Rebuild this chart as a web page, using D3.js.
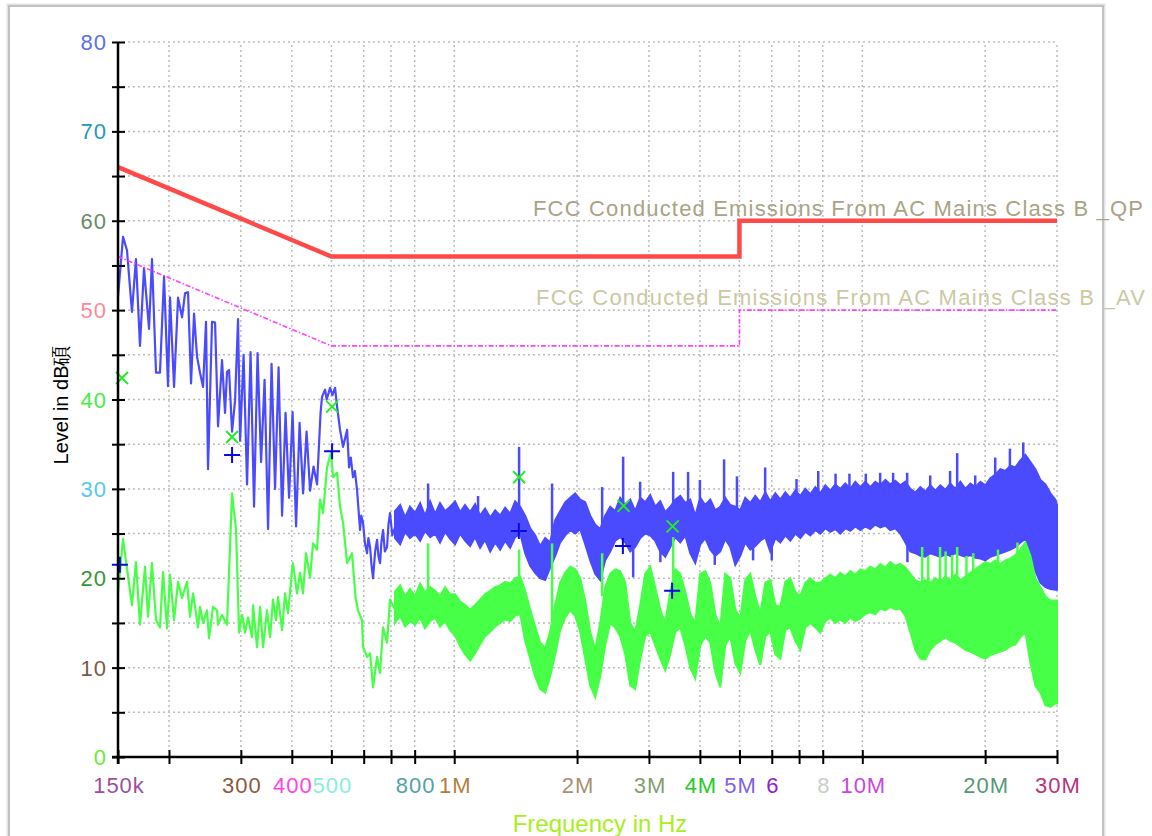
<!DOCTYPE html>
<html>
<head>
<meta charset="utf-8">
<script src="https://cdn.jsdelivr.net/npm/d3@7"></script>
<style>
  body { margin: 0; background: #fff; }
  svg { display: block; font-family: "Liberation Sans", Arial, sans-serif; }
</style>
</head>
<body>
<svg id="chart" width="1152" height="836"></svg>
<script>

// limit lines (MHz, dB)
var qpLimit = [[0.15, 66], [0.5, 56], [5, 56], [5, 60], [30, 60]];
var avLimit = [[0.15, 56], [0.5, 46], [5, 46], [5, 50], [30, 50]];

// peak trace, low part (kHz, dB)
var peakLow = [
  [150, 51.5], [154.3, 58.2], [157.8, 56.7], [162.3, 49.8], [166.0, 55.7], [169.8, 46.0],
  [173.7, 54.7], [178.7, 47.9], [181.7, 55.7], [185.9, 43.0], [190.1, 43.0], [194.5, 53.8],
  [198.9, 41.5], [201.2, 51.4], [205.8, 41.4], [210.5, 51.4], [215.3, 49.2], [219.0, 51.9],
  [222.7, 52.0], [226.5, 41.8], [230.4, 49.6], [234.3, 44.8], [238.3, 43.0], [242.4, 41.4],
  [246.5, 48.7], [249.3, 32.2], [255.0, 48.7], [259.4, 48.6], [263.8, 37.0], [269.8, 44.4],
  [274.4, 38.5], [277.5, 43.1], [280.7, 43.3], [285.5, 36.4], [290.4, 39.9], [295.3, 49.0],
  [298.7, 35.4], [304.7, 45.0], [310.7, 30.5], [316.9, 45.3], [323.2, 28.0], [329.7, 45.2],
  [336.3, 33.0], [343.0, 42.2], [349.8, 25.5], [356.8, 44.0], [363.9, 30.0], [371.2, 43.6],
  [378.6, 27.0], [386.1, 38.5], [393.8, 29.0], [401.7, 38.6], [409.7, 25.8], [417.9, 37.4],
  [426.2, 29.5], [434.7, 36.4], [443.4, 29.8], [452.2, 32.5], [461.2, 30.5], [470.4, 38.5],
  [474.3, 40.3], [482.5, 41.1], [487.0, 40.0], [496.3, 41.3], [503.0, 40.5], [510.5, 41.3],
  [516.3, 39.2], [525.1, 36.6], [534.1, 34.7], [546.3, 36.6], [552.5, 32.4], [558.0, 33.5],
  [565.0, 31.3], [571.0, 32.0], [577.9, 29.9], [587.8, 25.4], [592.0, 27.0], [597.9, 26.2],
  [604.0, 24.0], [611.5, 22.8], [616.0, 24.5], [622.0, 23.5], [627.0, 21.5], [632.6, 20.0],
  [640.0, 23.0], [647.0, 24.3], [652.0, 22.5], [658.0, 21.7], [663.0, 24.0], [669.3, 25.4],
  [676.0, 23.0], [684.6, 23.5], [690.0, 26.0], [696.2, 27.3], [705.0, 24.8], [716.1, 25.7]
];

// average trace, low part (kHz, dB)
var avgLow = [
  [150, 18.3], [154.3, 24.4], [162.3, 17.0], [166.0, 21.8], [169.8, 14.8], [174.7, 21.3],
  [177.7, 15.7], [181.7, 21.7], [185.9, 15.3], [190.1, 14.5], [193.4, 20.7], [197.8, 14.4],
  [201.2, 20.4], [205.8, 15.3], [210.5, 19.6], [215.3, 17.8], [221.4, 19.6], [225.2, 15.7],
  [229.1, 18.3], [235.6, 14.5], [238.3, 16.8], [242.4, 15.0], [247.9, 16.4], [250.7, 13.3],
  [256.5, 16.8], [262.3, 16.4], [263.8, 14.8], [269.8, 15.9], [277.5, 14.8], [285.5, 29.5],
  [292.0, 25.4], [297.0, 13.9], [302.1, 15.9], [307.3, 13.9], [312.5, 15.6], [319.6, 13.4],
  [321.4, 17.0], [328.7, 12.3], [334.4, 16.8], [340.1, 12.3], [347.8, 16.4], [353.8, 13.4],
  [359.8, 17.6], [365.9, 15.3], [370.1, 17.9], [378.6, 14.2], [385.0, 18.3], [391.5, 16.1],
  [400.5, 20.9], [402.7, 21.7], [411.9, 18.3], [419.0, 20.6], [426.1, 18.3], [433.4, 22.8],
  [443.3, 20.1], [450.9, 23.9], [461.2, 23.2], [469.0, 28.8], [477.1, 27.3], [487.9, 32.4],
  [499.1, 34.1], [504.7, 31.3], [516.3, 31.8], [525.1, 28.0], [534.1, 26.2], [546.3, 21.7],
  [561.9, 22.8], [572.9, 17.9], [581.2, 16.4], [594.5, 15.3], [597.9, 12.3], [611.5, 11.2],
  [622.0, 11.6], [632.6, 7.8], [647.0, 11.2], [658.0, 9.4], [669.3, 14.5], [684.6, 12.8],
  [696.2, 17.6], [716.1, 16.5]
];

// dense part of the traces, envelope (MHz, low dB, high dB)
var peakBand = [
  [0.716, 24.5, 27.5], [0.737, 23.8, 28.2], [0.758, 25.2, 26.8], [0.779, 24.5, 28.0], [0.802, 25.0, 27.3],
  [0.825, 24.2, 28.4], [0.848, 25.3, 27.0], [0.873, 24.6, 28.6], [0.898, 25.0, 27.2], [0.923, 24.0, 28.4],
  [0.950, 25.2, 27.5], [0.977, 24.4, 28.0], [1.005, 23.8, 28.6], [1.034, 25.0, 27.4], [1.063, 24.2, 28.2],
  [1.094, 23.6, 27.4], [1.125, 24.6, 28.3], [1.157, 23.4, 27.0], [1.190, 24.3, 27.8], [1.225, 23.0, 26.8],
  [1.260, 24.0, 27.6], [1.296, 23.2, 27.0], [1.333, 24.2, 27.9], [1.371, 23.4, 27.2], [1.410, 24.6, 28.6],
  [1.451, 25.0, 28.0], [1.492, 22.8, 27.0], [1.535, 21.4, 25.6], [1.579, 20.6, 24.8], [1.624, 20.0, 23.6],
  [1.671, 19.8, 24.5], [1.718, 21.2, 24.0], [1.768, 22.5, 26.5], [1.818, 24.0, 27.5], [1.870, 24.8, 28.5],
  [1.924, 25.4, 29.0], [1.979, 25.0, 29.5], [2.036, 25.5, 28.8], [2.094, 23.8, 28.5], [2.154, 22.0, 27.0],
  [2.216, 20.5, 26.0], [2.279, 19.8, 25.5], [2.344, 22.0, 27.0], [2.411, 23.0, 28.0], [2.480, 24.2, 27.5],
  [2.551, 24.6, 29.0], [2.625, 24.0, 28.2], [2.700, 23.0, 28.8], [2.777, 23.5, 27.5], [2.857, 24.5, 29.0],
  [2.938, 25.0, 28.5], [3.022, 24.8, 29.3], [3.109, 24.2, 28.0], [3.198, 23.0, 28.6], [3.290, 22.4, 27.4],
  [3.384, 23.5, 28.0], [3.481, 24.6, 28.8], [3.580, 24.0, 29.2], [3.683, 24.8, 28.4], [3.788, 22.8, 28.8],
  [3.897, 21.7, 27.0], [4.008, 23.8, 29.0], [4.123, 24.5, 28.2], [4.241, 23.2, 28.8], [4.362, 22.5, 27.6],
  [4.487, 23.0, 28.0], [4.616, 24.4, 29.0], [4.748, 23.5, 28.2], [4.884, 21.5, 28.0], [5.023, 22.5, 27.6],
  [5.167, 24.0, 29.0], [5.315, 23.2, 28.4], [5.467, 23.6, 29.2], [5.624, 24.2, 28.5], [5.785, 24.6, 29.6],
  [5.950, 23.0, 28.6], [6.121, 24.5, 29.5], [6.296, 24.0, 28.8], [6.476, 24.8, 29.6], [6.661, 24.2, 29.0],
  [6.852, 25.0, 29.8], [7.048, 24.5, 29.2], [7.250, 25.2, 30.0], [7.457, 24.8, 29.4], [7.671, 25.4, 30.2],
  [7.890, 25.0, 29.5], [8.116, 25.6, 30.4], [8.349, 25.2, 29.8], [8.587, 25.5, 30.5], [8.833, 25.0, 30.0],
  [9.086, 25.6, 30.6], [9.346, 25.3, 30.0], [9.613, 25.8, 30.8], [9.889, 25.4, 30.2], [10.17, 25.8, 30.8],
  [10.46, 25.5, 30.2], [10.76, 26.0, 30.8], [11.07, 25.7, 30.4], [11.39, 25.9, 31.0], [11.71, 25.4, 30.5],
  [12.05, 25.6, 30.9], [12.39, 25.0, 30.4], [12.75, 24.0, 30.8], [13.11, 23.0, 30.0], [13.49, 22.8, 29.6],
  [13.87, 22.5, 30.2], [14.27, 22.4, 29.7], [14.68, 22.8, 30.4], [15.10, 22.6, 29.8], [15.53, 22.4, 30.4],
  [15.98, 22.7, 29.9], [16.43, 22.5, 30.6], [16.90, 22.8, 30.0], [17.39, 22.6, 30.8], [17.89, 22.4, 30.0],
  [18.40, 22.6, 30.6], [18.93, 22.3, 30.2], [19.47, 22.2, 30.8], [20.03, 22.0, 30.4], [20.60, 22.4, 31.2],
  [21.19, 22.6, 31.6], [21.80, 22.8, 32.2], [22.42, 23.0, 32.0], [23.06, 23.2, 32.6], [23.72, 23.5, 32.4],
  [24.40, 24.0, 33.2], [25.10, 24.4, 33.8], [25.82, 22.0, 33.0], [26.56, 20.8, 32.2], [27.32, 19.5, 31.0],
  [28.10, 19.0, 30.5], [28.90, 18.8, 29.5], [29.73, 18.7, 28.8], [30.0, 18.7, 28.2]
];

var avgBand = [
  [0.716, 15.0, 18.5], [0.737, 15.8, 19.2], [0.758, 14.6, 18.0], [0.779, 15.2, 18.8], [0.802, 14.8, 18.0],
  [0.825, 15.6, 19.4], [0.848, 14.4, 18.4], [0.873, 15.2, 19.0], [0.898, 15.6, 18.6], [0.923, 14.6, 18.0],
  [0.950, 15.2, 19.0], [0.977, 14.2, 18.2], [1.005, 13.6, 18.2], [1.034, 12.4, 17.4], [1.063, 11.5, 17.0],
  [1.094, 10.8, 16.5], [1.125, 11.6, 17.0], [1.157, 12.6, 17.6], [1.190, 13.5, 18.2], [1.225, 14.0, 18.6],
  [1.260, 14.6, 19.0], [1.296, 15.0, 19.2], [1.333, 15.4, 19.6], [1.371, 15.2, 19.4], [1.410, 15.8, 20.0],
  [1.451, 16.0, 20.2], [1.492, 13.0, 18.6], [1.535, 11.0, 16.5], [1.579, 9.0, 14.6], [1.624, 7.6, 12.8],
  [1.671, 7.2, 12.2], [1.718, 9.0, 14.0], [1.768, 11.5, 17.0], [1.818, 14.2, 19.5], [1.870, 15.6, 20.6],
  [1.924, 16.4, 21.3], [1.979, 15.8, 21.0], [2.036, 14.0, 20.0], [2.094, 11.0, 17.5], [2.154, 8.0, 14.0],
  [2.216, 6.7, 12.0], [2.279, 9.0, 15.0], [2.344, 12.5, 19.0], [2.411, 15.0, 20.5], [2.480, 14.5, 21.0],
  [2.551, 13.5, 20.8], [2.625, 11.5, 19.5], [2.700, 8.0, 15.0], [2.777, 7.6, 14.0], [2.857, 11.0, 17.0],
  [2.938, 13.5, 20.5], [3.022, 14.0, 21.3], [3.109, 12.5, 19.0], [3.198, 11.0, 16.5], [3.290, 9.7, 15.0],
  [3.384, 11.5, 18.5], [3.481, 14.0, 21.0], [3.580, 14.5, 20.5], [3.683, 12.5, 18.5], [3.788, 10.0, 16.0],
  [3.897, 8.8, 15.0], [4.008, 12.5, 20.5], [4.123, 13.5, 20.8], [4.241, 12.8, 19.5], [4.362, 9.5, 16.0],
  [4.487, 7.8, 14.5], [4.616, 12.5, 20.5], [4.748, 13.5, 20.0], [4.884, 10.5, 16.5], [5.023, 9.4, 15.5],
  [5.167, 13.0, 19.8], [5.315, 14.2, 20.5], [5.467, 12.0, 18.0], [5.624, 10.3, 16.0], [5.785, 13.5, 19.5],
  [5.950, 14.0, 19.8], [6.121, 11.5, 17.0], [6.296, 11.0, 16.8], [6.476, 14.2, 19.6], [6.661, 14.5, 20.0],
  [6.852, 13.0, 18.5], [7.048, 12.0, 18.0], [7.250, 14.5, 19.5], [7.457, 15.0, 20.0], [7.671, 14.5, 19.5],
  [7.890, 13.9, 19.5], [8.116, 15.2, 20.0], [8.349, 15.6, 20.4], [8.587, 15.0, 20.0], [8.833, 15.4, 20.6],
  [9.086, 15.0, 20.2], [9.346, 15.6, 20.8], [9.613, 15.2, 20.4], [9.889, 15.5, 21.0], [10.17, 16.0, 20.8],
  [10.46, 16.2, 21.3], [10.76, 16.0, 21.0], [11.07, 16.6, 21.6], [11.39, 16.4, 21.2], [11.71, 16.8, 21.8],
  [12.05, 16.5, 21.4], [12.39, 16.6, 21.6], [12.75, 15.8, 21.2], [13.11, 14.0, 20.5], [13.49, 12.0, 19.8],
  [13.87, 11.0, 19.5], [14.27, 10.9, 19.8], [14.68, 12.0, 19.5], [15.10, 12.6, 20.0], [15.53, 13.0, 19.6],
  [15.98, 13.4, 20.2], [16.43, 13.0, 19.8], [16.90, 12.8, 20.4], [17.39, 12.4, 19.8], [17.89, 12.0, 20.2],
  [18.40, 11.8, 20.6], [18.93, 11.5, 21.0], [19.47, 11.2, 21.4], [20.03, 11.0, 21.8], [20.60, 11.4, 21.6],
  [21.19, 11.6, 22.0], [21.80, 11.8, 21.6], [22.42, 12.0, 22.0], [23.06, 12.4, 22.2], [23.72, 12.6, 22.6],
  [24.40, 13.4, 23.2], [25.10, 14.0, 24.0], [25.82, 10.5, 22.5], [26.56, 8.0, 20.0], [27.32, 7.2, 19.0],
  [28.10, 5.8, 18.0], [28.90, 5.6, 17.5], [29.73, 6.0, 17.5], [30.0, 6.0, 17.5]
];

// single spikes sticking out of the bands (MHz, from dB, to dB)
var peakSpikes = [
  [0.863, 27, 30.6], [1.144, 27, 29.2], [1.442, 28, 34.7], [1.737, 24, 30.6], [2.304, 25, 30.2],
  [2.594, 28, 33.6], [2.745, 24, 20.1], [2.855, 28, 30.8], [3.44, 28, 31.9], [3.742, 28, 31.9],
  [4.0, 28, 31.0], [4.585, 28, 33.3], [4.93, 27, 31.4], [5.78, 28.5, 32.4], [6.9, 29, 31.1],
  [7.8, 29, 32.0], [8.6, 29.5, 31.7], [9.3, 29.5, 31.7], [10.2, 30, 31.7], [11.06, 30, 31.8],
  [11.9, 30, 31.8], [12.88, 29.5, 31.8], [14.67, 29.5, 31.5], [16.41, 30, 32.0], [17.08, 30, 34.0],
  [18.91, 30, 31.5], [21.17, 31, 33.5], [23.0, 32, 34.5], [24.8, 33, 35.2],
  [3.2, 25, 21.8], [4.35, 25, 21.5], [5.4, 25, 22.0], [6.0, 25, 22.0], [12.9, 25, 21.8]
];
var avgSpikes = [
  [0.863, 18, 23.9], [1.442, 19, 23.2], [1.737, 14, 23.9], [2.304, 18, 22.8], [3.44, 20, 24.6],
  [14.02, 19, 23.5], [14.5, 19, 22.5], [15.51, 19, 23.5], [16.0, 19, 23.0], [16.6, 19, 22.6],
  [17.08, 19, 23.5], [18.0, 19, 22.5], [18.7, 20, 22.8], [21.5, 21, 23.2], [24.0, 22, 24.0]
];

// final measurement markers (MHz, dB)
var qpMarks = [[0.1534, 42.4], [0.2855, 35.8], [0.502, 39.2], [1.442, 31.3], [2.6, 28.1], [3.43, 25.8]];
var avMarks = [[0.1516, 21.5], [0.2855, 33.8], [0.502, 34.2], [1.44, 25.3], [2.59, 23.6], [3.42, 18.6]];

// axis ticks and labels
var yTicks = d3.range(0, 81, 5);
var yLabels = [0, 10, 20, 30, 40, 50, 60, 70, 80];
var yLabelColors = ["#66ee33", "#7b5a48", "#339933", "#55c8ee", "#44ee44", "#ff8899", "#6a8a6a", "#2299bb", "#5a70ee"];
var xTicks = [0.15, 0.2, 0.3, 0.4, 0.5, 0.6, 0.7, 0.8, 1, 2, 3, 4, 5, 6, 7, 8, 10, 20, 30];
var xLabels = [[0.15, "150k"], [0.3, "300"], [0.4, "400"], [0.5, "500"], [0.8, "800"], [1, "1M"], [2, "2M"],
  [3, "3M"], [4, "4M"], [5, "5M"], [6, "6"], [8, "8"], [10, "10M"], [20, "20M"], [30, "30M"]];
var xLabelColors = ["#9a50a0", "#8b5a40", "#ff44dd", "#88eedd", "#55a0a8", "#b0803c", "#a89070",
  "#80a070", "#22cc22", "#8060ee", "#9020cc", "#c8d0c8", "#cc44dd", "#559977", "#bb3377"];

var qpName = "FCC Conducted Emissions From AC Mains Class B _QP";
var avName = "FCC Conducted Emissions From AC Mains Class B _AV";

var svg = d3.select("#chart");

var x = d3.scaleLog().domain([0.15, 30]).range([118, 1057]);
var y = d3.scaleLinear().domain([0, 80]).range([757, 42]);

// window frame
svg.append("rect").attr("x", 8).attr("y", 5).attr("width", 1096).attr("height", 850)
  .attr("fill", "none").attr("stroke", "#e4e4e4").attr("stroke-width", 3);
svg.append("rect").attr("x", 9).attr("y", 6).attr("width", 1094).attr("height", 850)
  .attr("fill", "none").attr("stroke", "#b4b4b4").attr("stroke-width", 1.5);

// grid
var grid = svg.append("g").attr("stroke", "#bdbdbd").attr("stroke-width", 1.5).attr("stroke-dasharray", "2,3");
grid.selectAll(".hg").data(yTicks.filter(function (d) { return d > 0; })).enter().append("line")
  .attr("x1", x(0.15)).attr("x2", x(30))
  .attr("y1", function (d) { return y(d); }).attr("y2", function (d) { return y(d); });
grid.selectAll(".vg").data(xTicks.slice(1)).enter().append("line")
  .attr("y1", y(0)).attr("y2", y(80))
  .attr("x1", function (d) { return x(d); }).attr("x2", function (d) { return x(d); });

// traces
var kLine = d3.line().x(function (d) { return x(d[0] / 1000); }).y(function (d) { return y(d[1]); });
var band = d3.area().x(function (d) { return x(d[0]); })
  .y0(function (d) { return y(d[1]); }).y1(function (d) { return y(d[2]); });

function drawTrace(low, env, spikes, color) {
  var g = svg.append("g");
  g.append("path").datum(low).attr("d", kLine)
    .attr("fill", "none").attr("stroke", color).attr("stroke-width", 2.2).attr("stroke-linejoin", "round");
  g.append("path").datum(env).attr("d", band)
    .attr("fill", color).attr("stroke", color).attr("stroke-width", 2);
  g.selectAll(".sp").data(spikes).enter().append("line")
    .attr("x1", function (d) { return x(d[0]); }).attr("x2", function (d) { return x(d[0]); })
    .attr("y1", function (d) { return y(d[1]); }).attr("y2", function (d) { return y(d[2]); })
    .attr("stroke", color).attr("stroke-width", 2.5);
}
drawTrace(peakLow, peakBand, peakSpikes, "#4a4aff");
drawTrace(avgLow, avgBand, avgSpikes, "#46ff46");

// limits
var mLine = d3.line().x(function (d) { return x(d[0]); }).y(function (d) { return y(d[1]); });
svg.append("path").datum(qpLimit).attr("d", mLine)
  .attr("fill", "none").attr("stroke", "#ff4848").attr("stroke-width", 4.5);
svg.append("path").datum(avLimit).attr("d", mLine)
  .attr("fill", "none").attr("stroke", "#ff40ff").attr("stroke-width", 1.6).attr("stroke-dasharray", "5,2,1.5,2");

// markers
svg.selectAll(".qpm").data(qpMarks).enter().append("path")
  .attr("transform", function (d) { return "translate(" + x(d[0]) + "," + y(d[1]) + ")"; })
  .attr("d", "M-6,-6L6,6M-6,6L6,-6").attr("stroke", "#22ee22").attr("stroke-width", 2);
svg.selectAll(".avm").data(avMarks).enter().append("path")
  .attr("transform", function (d) { return "translate(" + x(d[0]) + "," + y(d[1]) + ")"; })
  .attr("d", "M-8,0L8,0M0,-8L0,8").attr("stroke", "#0a0ae0").attr("stroke-width", 2);

// axes
var yAxis = svg.append("g").attr("transform", "translate(" + x(0.15) + ",0)")
  .call(d3.axisLeft(y).tickValues(yTicks).tickSize(6).tickFormat(""));
yAxis.select(".domain").attr("d", "M0," + (y(80)) + "V" + (y(0) + 7)).attr("stroke-width", 2.5);
yAxis.selectAll(".tick line").attr("x1", 7).attr("x2", -6).attr("stroke-width", 2);

var xAxis = svg.append("g").attr("transform", "translate(0," + y(0) + ")")
  .call(d3.axisBottom(x).tickValues(xTicks).tickSize(7).tickFormat(""));
xAxis.select(".domain").attr("d", "M" + (x(0.15) - 6) + ",0H" + x(30)).attr("stroke-width", 2.5);
xAxis.selectAll(".tick line").attr("y1", -7).attr("y2", 7).attr("stroke-width", 2);

svg.selectAll(".yl").data(yLabels).enter().append("text")
  .attr("x", 107).attr("y", function (d) { return y(d) + 8; })
  .attr("text-anchor", "end").attr("font-size", 22).attr("letter-spacing", 1)
  .attr("fill", function (d, i) { return yLabelColors[i]; })
  .text(function (d) { return d; });

svg.selectAll(".xl").data(xLabels).enter().append("text")
  .attr("x", function (d) { return x(d[0]) + 1; }).attr("y", 793)
  .attr("text-anchor", "middle").attr("font-size", 22).attr("letter-spacing", 1)
  .attr("fill", function (d, i) { return xLabelColors[i]; })
  .text(function (d) { return d[1]; });

// titles
svg.append("text").attr("transform", "translate(68,405) rotate(-90)")
  .attr("text-anchor", "middle").attr("font-size", 20).attr("fill", "#000")
  .text("Level in dB碩");
svg.append("text").attr("x", 600).attr("y", 832)
  .attr("text-anchor", "middle").attr("font-size", 24).attr("fill", "#aaee22")
  .text("Frequency in Hz");

// limit names
svg.append("text").attr("x", 533).attr("y", 216).attr("font-size", 22)
  .attr("textLength", 610).attr("lengthAdjust", "spacing").attr("fill", "#aaa385")
  .text(qpName);
svg.append("text").attr("x", 536).attr("y", 305).attr("font-size", 22)
  .attr("textLength", 609).attr("lengthAdjust", "spacing").attr("fill", "#cbc9a3")
  .text(avName);

</script>
</body>
</html>
